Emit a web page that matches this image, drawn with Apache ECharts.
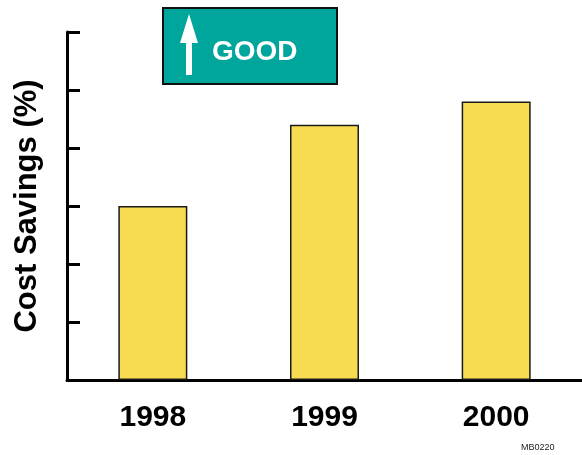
<!DOCTYPE html>
<html>
<head>
<meta charset="utf-8">
<script src="https://cdn.jsdelivr.net/npm/echarts@6/dist/echarts.min.js"></script>
<style>
  html, body { margin: 0; padding: 0; background: #ffffff; }
  #chart { width: 582px; height: 455px; }
</style>
</head>
<body>
<div id="chart"></div>
<script>
// Yearly cost savings
const years = ['1998', '1999', '2000'];
const savings = [3.0, 4.4, 4.8];
const yMin = 0, yMax = 6, yStep = 1;

const chart = echarts.init(document.getElementById('chart'), null, { renderer: 'canvas' });

const font = 'Arial, "Liberation Sans", Helvetica, sans-serif';

chart.setOption({
  animation: false,
  backgroundColor: '#ffffff',
  grid: { left: 67, right: 0, top: 32, bottom: 75, containLabel: false, outerBoundsMode: 'none' },
  xAxis: {
    type: 'category',
    data: years,
    boundaryGap: true,
    axisLine: { show: true, lineStyle: { color: '#000', width: 3 } },
    axisTick: { show: false },
    axisLabel: {
      color: '#000', fontFamily: font, fontWeight: 'bold', fontSize: 30, margin: 23
    }
  },
  yAxis: {
    type: 'value',
    min: yMin, max: yMax, interval: yStep,
    name: 'Cost Savings (%)',
    nameLocation: 'middle',
    nameRotate: 90,
    nameGap: 24,
    nameTextStyle: { color: '#000', fontFamily: font, fontWeight: 'bold', fontSize: 31 },
    axisLine: { show: true, lineStyle: { color: '#000', width: 3 } },
    axisTick: { show: true, inside: true, length: 13, lineStyle: { color: '#000', width: 3 } },
    axisLabel: { show: false },
    splitLine: { show: false }
  },
  series: [{
    type: 'bar',
    data: savings,
    barWidth: 69,
    itemStyle: { color: '#F7DC52', borderColor: '#1a1a1a', borderWidth: 1.5 }
  }],
  graphic: [
    {
      type: 'group', left: 162, top: 7,
      children: [
        { type: 'rect', shape: { x: 0, y: 0, width: 174, height: 76 },
          style: { fill: '#00A59B', stroke: '#111', lineWidth: 2 } },
        { type: 'polygon',
          shape: { points: [[26, 6], [35, 35], [29, 35], [29, 67], [23, 67], [23, 35], [17, 35]] },
          style: { fill: '#ffffff' } },
        { type: 'text', x: 49, y: 44,
          style: { text: 'GOOD', fill: '#ffffff', font: 'bold 28px ' + font,
                   textVerticalAlign: 'middle', verticalAlign: 'middle' } }
      ]
    },
    {
      type: 'text', left: 521, top: 443,
      style: { text: 'MB0220', fill: '#222', font: '9px ' + font }
    }
  ]
});
</script>
</body>
</html>
